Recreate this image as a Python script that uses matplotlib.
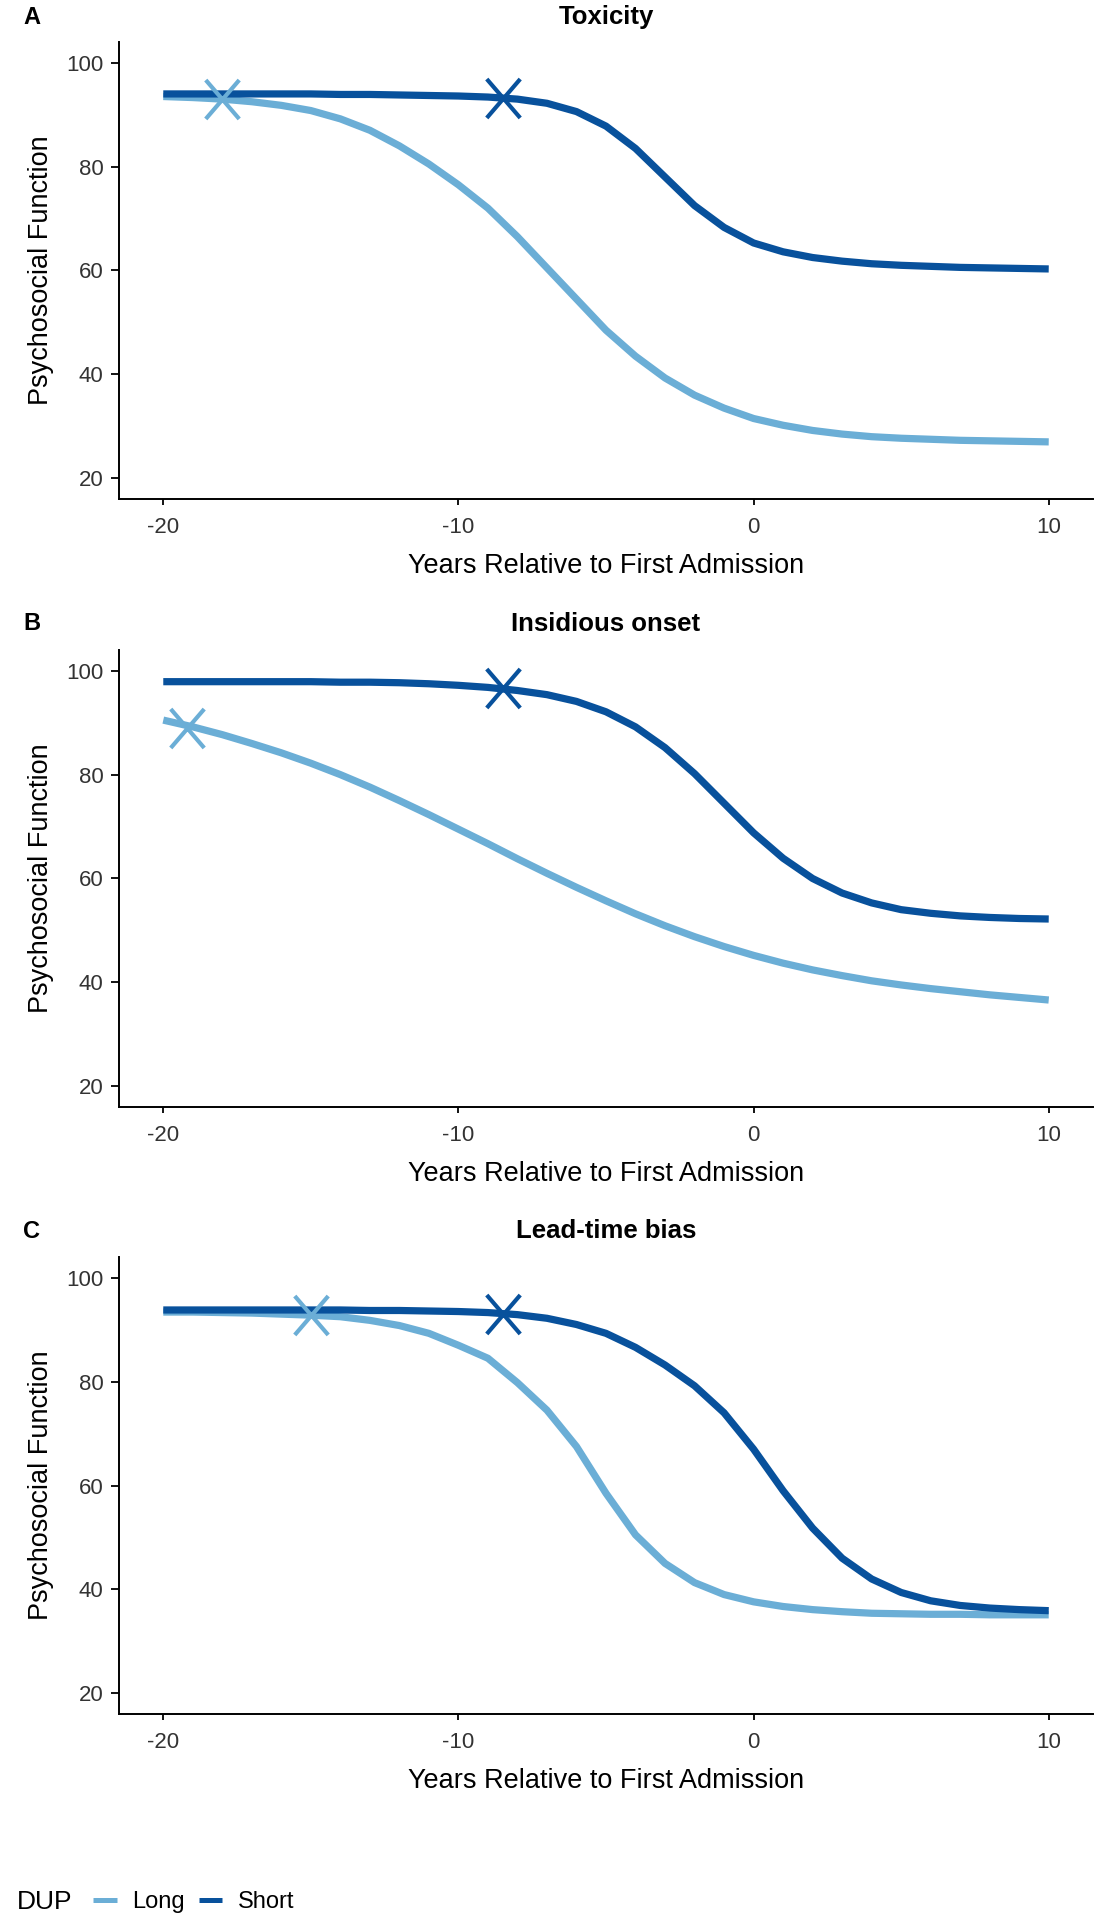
import matplotlib
matplotlib.use("Agg")
import matplotlib.pyplot as plt
from matplotlib.lines import Line2D
from matplotlib.path import Path

plt.rcParams['font.family'] = ['Liberation Sans', 'DejaVu Sans']

# ---------------- data ----------------
years = list(range(-20, 11))

tox_long = [93.5, 93.3, 93.0, 92.5, 91.8, 90.8, 89.2, 87.0, 84.0, 80.5,
            76.5, 72.0, 66.5, 60.5, 54.5, 48.5, 43.5, 39.3, 36.0, 33.5,
            31.5, 30.2, 29.2, 28.5, 28.0, 27.7, 27.5, 27.3, 27.2, 27.1, 27.0]
tox_short = [94.0, 94.0, 94.0, 94.0, 94.0, 94.0, 93.9, 93.9, 93.8, 93.7,
             93.6, 93.4, 93.0, 92.2, 90.6, 87.8, 83.5, 78.0, 72.5, 68.3,
             65.3, 63.6, 62.5, 61.8, 61.3, 61.0, 60.8, 60.6, 60.5, 60.4, 60.3]

ins_long = [90.5, 89.2, 87.7, 86.0, 84.2, 82.2, 80.0, 77.6, 75.0, 72.3,
            69.5, 66.7, 63.8, 61.0, 58.3, 55.7, 53.2, 50.9, 48.8, 46.9,
            45.2, 43.7, 42.4, 41.3, 40.3, 39.5, 38.8, 38.2, 37.6, 37.1, 36.6]
ins_short = [97.9, 97.9, 97.9, 97.9, 97.9, 97.9, 97.8, 97.8, 97.7, 97.5,
             97.2, 96.8, 96.2, 95.4, 94.1, 92.1, 89.2, 85.2, 80.2, 74.5,
             68.8, 63.9, 60.0, 57.2, 55.3, 54.0, 53.3, 52.8, 52.5, 52.3, 52.2]

lead_long = [93.4, 93.4, 93.3, 93.2, 93.0, 92.8, 92.5, 91.8, 90.8, 89.3,
             87.0, 84.5, 79.8, 74.5, 67.5, 58.5, 50.5, 45.0, 41.3, 39.0,
             37.6, 36.7, 36.1, 35.7, 35.4, 35.3, 35.2, 35.2, 35.1, 35.1, 35.1]
lead_short = [93.8, 93.8, 93.8, 93.8, 93.8, 93.8, 93.8, 93.7, 93.7, 93.6,
              93.5, 93.3, 92.9, 92.2, 91.0, 89.3, 86.6, 83.2, 79.2, 74.0,
              67.0, 59.0, 51.8, 46.0, 42.0, 39.4, 37.8, 36.9, 36.4, 36.1, 35.9]

# onset markers (x, y) for Long and Short
tox_marks = {"Long": (-18.0, 93.0), "Short": (-8.5, 93.2)}
ins_marks = {"Long": (-19.2, 89.0), "Short": (-8.5, 96.7)}
lead_marks = {"Long": (-15.0, 92.9), "Short": (-8.5, 93.1)}

panel_letters = ["A", "B", "C"]
panel_titles = ["Toxicity", "Insidious onset", "Lead-time bias"]
x_ticks = [-20, -10, 0, 10]
y_ticks = [20, 40, 60, 80, 100]
x_label = "Years Relative to First Admission"
y_label = "Psychosocial Function"
legend_title = "DUP"
groups = ["Long", "Short"]

# ---------------- style ----------------
colors = {"Long": "#6BAED6", "Short": "#08519C"}
W, H = 1098, 1920
fig = plt.figure(figsize=(W / 100, H / 100), dpi=100)

cross = Path([(-0.43, -0.5), (0.43, 0.5), (-0.43, 0.5), (0.43, -0.5)],
             [Path.MOVETO, Path.LINETO, Path.MOVETO, Path.LINETO])

panels = [
    (tox_long, tox_short, tox_marks, 42, 17),
    (ins_long, ins_short, ins_marks, 650, 624),
    (lead_long, lead_short, lead_marks, 1257, 1231),
]

left_px, right_px, height_px = 119, 1093, 457

for i, (lo, sh, marks, top_px, title_y) in enumerate(panels):
    ax = fig.add_axes([left_px / W, 1 - (top_px + height_px) / H,
                       (right_px - left_px) / W, height_px / H])
    series = {"Long": lo, "Short": sh}
    for g in groups:
        ax.plot(years, series[g], color=colors[g], lw=5.2,
                solid_capstyle="butt", solid_joinstyle="round", zorder=2)
    for g in groups:
        mx, my = marks[g]
        ax.plot([mx], [my], marker=cross, markersize=28, mew=3.0,
                color=colors[g], linestyle="none", zorder=3)
    ax.set_xlim(-21.5, 11.5)
    ax.set_ylim(16, 104)
    ax.set_xticks(x_ticks)
    ax.set_yticks(y_ticks)
    ax.set_xticklabels([str(v) for v in x_ticks])
    ax.set_yticklabels([str(v) for v in y_ticks])
    for s in ["top", "right"]:
        ax.spines[s].set_visible(False)
    for s in ["left", "bottom"]:
        ax.spines[s].set_linewidth(1.4)
    ax.tick_params(axis="y", length=6, width=1.3, labelsize=16,
                   labelcolor="#333333", pad=5)
    ax.tick_params(axis="x", length=4, width=1.3, labelsize=16,
                   labelcolor="#333333", pad=9)
    ax.set_xlabel(x_label, fontsize=19.5, labelpad=11)
    ax.set_ylabel(y_label, fontsize=19.5, labelpad=9)
    fig.text((left_px + right_px) / 2 / W, 1 - title_y / H, panel_titles[i],
             ha="center", va="center", fontsize=18.5, fontweight="bold")
    fig.text(23 / W, 1 - title_y / H, panel_letters[i], ha="left",
             va="center", fontsize=17, fontweight="bold")

# legend
fig.text(17 / W, 1 - 1902 / H, legend_title, ha="left", va="center",
         fontsize=19)
handles = [Line2D([], [], color=colors[g], lw=3.6, solid_capstyle="butt")
           for g in groups]
fig.legend(handles, groups, loc="center left",
           bbox_to_anchor=(93 / W, 1 - 1902 / H), ncol=2, frameon=False,
           fontsize=17, handlelength=1.0, handletextpad=0.65,
           columnspacing=0.6, borderpad=0, borderaxespad=0)

fig.savefig("out.png", dpi=100)
